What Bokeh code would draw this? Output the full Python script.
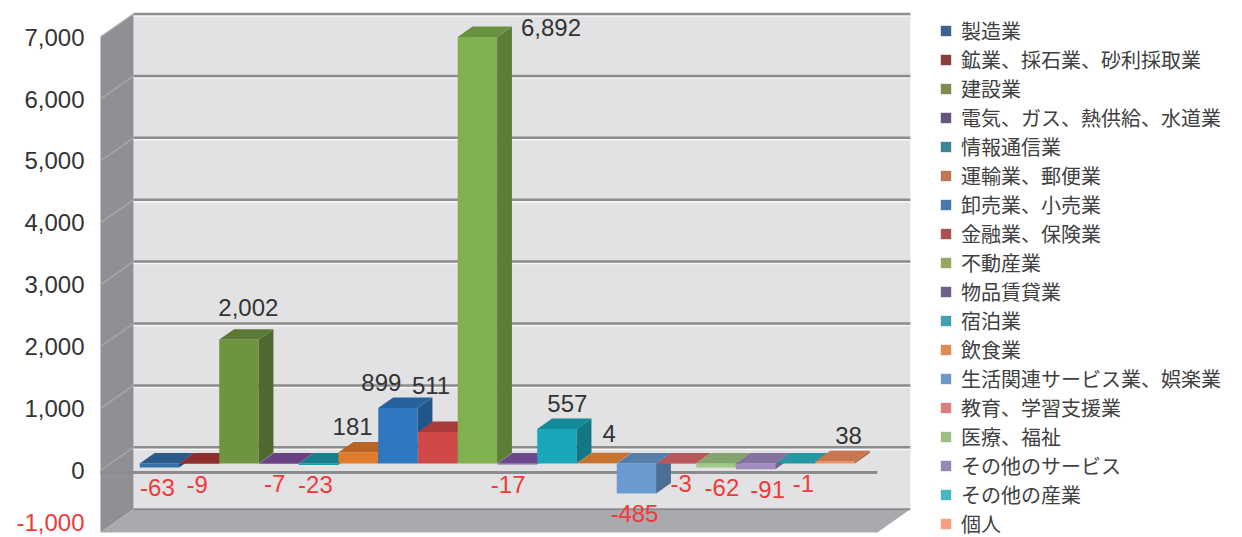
from bokeh.plotting import figure
from bokeh.models import (ColumnDataSource, Legend, LegendItem, Range1d)
from bokeh.core.properties import value
from bokeh.embed import file_html
from bokeh.resources import INLINE

# ---------------- data ----------------
categories = ["製造業", "鉱業、採石業、砂利採取業", "建設業", "電気、ガス、熱供給、水道業",
              "情報通信業", "運輸業、郵便業", "卸売業、小売業", "金融業、保険業", "不動産業",
              "物品賃貸業", "宿泊業", "飲食業", "生活関連サービス業、娯楽業", "教育、学習支援業",
              "医療、福祉", "その他のサービス", "その他の産業", "個人"]
values = [-63, -9, 2002, -7, -23, 181, 899, 511, 6892, -17, 557, 4, -485, -3, -62, -91, -1, 38]
y_ticks = [-1000, 0, 1000, 2000, 3000, 4000, 5000, 6000, 7000]

# ---------------- styles ----------------
legend_colors = ['#3d6290', '#8a3f3c', '#7d8c4e', '#665480', '#3c8598', '#c07850',
                 '#4a78a8', '#a85250', '#95a862', '#70608f', '#42a0b2', '#dd8a55',
                 '#7098c6', '#d88080', '#9cbd84', '#9688b5', '#4ab5c5', '#f4a080']
bar_colors = ['#3470aa', '#b03838', '#6f9440', '#8250a2', '#1f9cae', '#e07b2e',
              '#2f78c0', '#d04848', '#80b050', '#8258aa', '#19a8ba', '#f28c3c',
              '#6a9ad0', '#e06a70', '#a0c888', '#a08cc0', '#30b8c8', '#f59060']
POS_COLOR, NEG_COLOR = "#333333", "#f03a3a"
# label fine placement (screen px)
label_dx = [-2, -2, 2, -4, -3, -13, -24, -14, 0, -9, 3, 5, -2, 5, 6, 12, 8, 6]
label_dy = [0, 0, -7, 0, 0, 0, 0, -21, 0, 0, 0, -4, 0, 0, 0, 0, 0, 0]

def shade(c, f):
    r, g, b = int(c[1:3], 16), int(c[3:5], 16), int(c[5:7], 16)
    return '#%02x%02x%02x' % (int(r * f), int(g * f), int(b * f))

# ---------------- geometry (data units) ----------------
PX_CAT = 39.75          # px per category
PX_UNIT = 0.0619        # px per value unit
DX = 33 / PX_CAT        # full depth, x
DY = 23.2 / PX_UNIT     # full depth, y
ZF, ZB = 0.30, 0.75     # bar depth span
W = 0.99
LEFT, TOP = 100, 8
FIG_W, FRAME_H = 1234, 529
xL = -1.233
xR = 18.31
YMIN, YMAX = -1000, 7000

p = figure(width=FIG_W, height=TOP + FRAME_H, output_backend="svg", toolbar_location=None,
           x_range=Range1d(xL - LEFT / PX_CAT, xL + (FIG_W - LEFT) / PX_CAT),
           y_range=Range1d(-1082.4, -1082.4 + FRAME_H / PX_UNIT),
           x_axis_location=None, y_axis_location=None,
           min_border_left=0, min_border_right=0, min_border_top=TOP, min_border_bottom=0)
p.grid.visible = False
p.outline_line_color = None
p.background_fill_color = "white"
p.border_fill_color = "white"

# walls
p.patch([xL + DX, xR + DX, xR + DX, xL + DX], [YMIN + DY, YMIN + DY, YMAX + DY, YMAX + DY],
        fill_color="#e2e2e4", line_color=None)
p.patch([xL, xL + DX, xL + DX, xL], [YMIN, YMIN + DY, YMAX + DY, YMAX],
        fill_color="#8f9094", line_color=None)
p.patch([xL, xR, xR + DX, xL + DX], [YMIN, YMIN, YMIN + DY, YMIN + DY],
        fill_color="#a9aaad", line_color=None)

grid_vals = [t for t in y_ticks if t > YMIN]
p.multi_line([[xL + DX, xR + DX] for _ in grid_vals],
             [[v + DY - 2 / PX_UNIT] * 2 for v in grid_vals], line_color="#f6f6f6", line_width=1.5)
p.multi_line([[xL + DX, xR + DX] for _ in grid_vals], [[v + DY] * 2 for v in grid_vals],
             line_color="#8c8c8e", line_width=2.5)
p.multi_line([[xL, xL + DX] for _ in grid_vals], [[v, v + DY] for v in grid_vals],
             line_color="#a6a7aa", line_width=1.5)
p.line([xL, xR], [-2 / PX_UNIT, -2 / PX_UNIT], line_color="#8c8c8e", line_width=3)
p.line([xL + DX, xR + DX], [YMIN + DY, YMIN + DY], line_color="#8c8c8e", line_width=2)

# y tick labels (front plane of the box)
tick_txt = [f"{t:,}" for t in y_ticks]
tick_col = [NEG_COLOR if t < 0 else POS_COLOR for t in y_ticks]
tick_dy = [-10 if t == YMIN else 0 for t in y_ticks]
p.text(x=[xL] * len(y_ticks), y=y_ticks, text=tick_txt, x_offset=-16, y_offset=tick_dy,
       text_align="right", text_baseline="middle", text_font=value("Liberation Sans"),
       text_font_size="24px", text_color=tick_col)

# bars (3 faces each, drawn left to right)
xs, ys, cols = [], [], []
d = ZB - ZF
for i, v in enumerate(values):
    lo, hi = min(v, 0), max(v, 0)
    x0 = i - W / 2 + ZF * DX
    x1 = i + W / 2 + ZF * DX
    c = bar_colors[i]
    xs.append([x0, x1, x1, x0]); ys.append([lo + ZF * DY, lo + ZF * DY, hi + ZF * DY, hi + ZF * DY]); cols.append(c)
    xs.append([x1, x1 + d * DX, x1 + d * DX, x1])
    ys.append([lo + ZF * DY, lo + ZB * DY, hi + ZB * DY, hi + ZF * DY]); cols.append(shade(c, 0.72))
    xs.append([x0, x1, x1 + d * DX, x0 + d * DX])
    ys.append([hi + ZF * DY, hi + ZF * DY, hi + ZB * DY, hi + ZB * DY]); cols.append(shade(c, 0.82))
p.patches(xs=xs, ys=ys, fill_color=cols, line_color=None)

# legend proxy renderer (zero-area quads at each bar, carrying the legend colours)
leg_src = ColumnDataSource(dict(x=list(range(len(values))), top=[max(v, 0) for v in values],
                                col=legend_colors))
leg_r = p.quad(left="x", right="x", bottom="top", top="top", fill_color="col",
               line_color=None, source=leg_src)

# data labels
pos_x, pos_y, pos_t, pos_dx, pos_dy = [], [], [], [], []
neg_x, neg_y, neg_t, neg_dx = [], [], [], []
big_x, big_y, big_t = [], [], []
for i, v in enumerate(values):
    if v >= 0:
        if v > 5000:
            big_x.append(i + W / 2 + ZB * DX); big_y.append(v + ZB * DY); big_t.append(f"{v:,}")
        else:
            pos_x.append(i + ZF * DX + 0.5 * d * DX); pos_y.append(v + ZB * DY)
            pos_t.append(f"{v:,}"); pos_dx.append(label_dx[i]); pos_dy.append(-15 + label_dy[i])
    else:
        neg_x.append(i + ZF * DX); neg_y.append(v + ZF * DY)
        neg_t.append(f"{v:,}"); neg_dx.append(label_dx[i])

p.text(x=pos_x, y=pos_y, text=pos_t, x_offset=pos_dx, y_offset=pos_dy,
       text_align="center", text_baseline="middle", text_font=value("Liberation Sans"),
       text_font_size="24px", text_color=POS_COLOR)
p.text(x=big_x, y=big_y, text=big_t, x_offset=9, y_offset=1,
       text_align="left", text_baseline="middle", text_font=value("Liberation Sans"),
       text_font_size="24px", text_color=POS_COLOR)
p.text(x=neg_x, y=neg_y, text=neg_t, x_offset=neg_dx, y_offset=20,
       text_align="center", text_baseline="middle", text_font=value("Liberation Sans"),
       text_font_size="24px", text_color=NEG_COLOR)

legend = Legend(items=[LegendItem(label=c, renderers=[leg_r], index=i)
                       for i, c in enumerate(categories)],
                location=(LEFT + 839, -1), orientation="vertical",
                label_text_font="'Liberation Sans', 'Noto Sans CJK JP'", label_text_font_size="20px",
                label_text_color="#404040", glyph_width=13, glyph_height=13,
                label_height=29, label_standoff=9, spacing=0, padding=0, margin=0,
                border_line_color=None, background_fill_alpha=0)
p.add_layout(legend)

open("out.html", "w").write(file_html(p, INLINE))
